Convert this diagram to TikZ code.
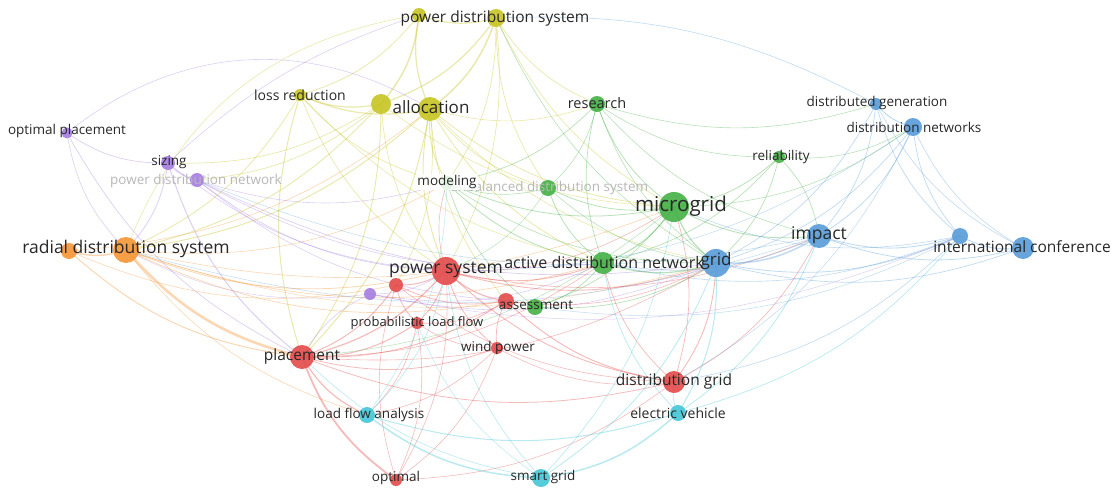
\documentclass[tikz,border=0pt]{standalone}
\usepackage{fontspec}
\setmainfont{Open Sans}
\usetikzlibrary{backgrounds}

\definecolor{cY}{RGB}{200,198,40}
\definecolor{cP}{RGB}{168,128,226}
\definecolor{cO}{RGB}{245,152,58}
\definecolor{cR}{RGB}{228,78,78}
\definecolor{cC}{RGB}{72,200,216}
\definecolor{cG}{RGB}{72,178,72}
\definecolor{cB}{RGB}{92,158,218}
\definecolor{txt}{RGB}{40,40,40}

\tikzset{
  lk/.style={draw=#1, draw opacity=0.38, line cap=round},
  dot/.style={circle, fill=#1, fill opacity=0.92, draw=none, inner sep=0pt},
  lbl/.style={text=txt, inner sep=1pt, font=\fontsize{#1}{#1}\selectfont},
  faint/.style={text=black!28, inner sep=1pt, font=\fontsize{#1}{#1}\selectfont},
}

\begin{document}
\begin{tikzpicture}[x=1pt, y=-1pt]
\useasboundingbox[fill=white] (0,0) rectangle (1115,487);

% keyword positions
\coordinate (pdsA)   at (419,15);
\coordinate (pds)    at (496,18);
\coordinate (loss)   at (300,95);
\coordinate (alA)    at (381,104);
\coordinate (al)     at (430,109);
\coordinate (optp)   at (67,133);
\coordinate (sizing) at (168,163);
\coordinate (pdn)    at (197,180);
\coordinate (purp)   at (370,294);
\coordinate (rdsA)   at (69,251);
\coordinate (rds)    at (126,250);
\coordinate (ps)     at (446,271);
\coordinate (ps2)    at (396,285);
\coordinate (assessR) at (506,301);
\coordinate (assessG) at (535,307);
\coordinate (plf)    at (417,323);
\coordinate (wind)   at (497,348);
\coordinate (place)  at (302,357);
\coordinate (optimal) at (396,480);
\coordinate (dgrid)  at (674,382);
\coordinate (lfa)    at (367,415);
\coordinate (sgrid)  at (541,478);
\coordinate (ev)     at (678,413);
\coordinate (research) at (597,104);
\coordinate (model)  at (447,183);
\coordinate (unbal)  at (548,188);
\coordinate (micro)  at (674,207);
\coordinate (adn)    at (603,263);
\coordinate (rel)    at (779,157);
\coordinate (dg)     at (876,104);
\coordinate (dn)     at (913,127);
\coordinate (impact) at (819,236);
\coordinate (grid)   at (716,263);
\coordinate (icA)    at (960,236);
\coordinate (ic)     at (1023,248);

% co-occurrence links
\foreach \a/\b/\c/\w in {
  pdsA/pds/cY/1.2, alA/pdsA/cY/1.5, pdsA/al/cY/1.2, alA/pds/cY/1.2, al/pds/cY/1.5,
  loss/pdsA/cY/0.8, pds/research/cY/0.7, pds/micro/cY/0.7, pds/unbal/cY/0.7,
  model/pds/cY/0.7, ps/pds/cY/0.7, pds/grid/cG/0.6,
  loss/al/cY/1.2, loss/alA/cY/1.2, loss/place/cY/1.0, rds/loss/cY/0.8,
  loss/ps/cY/0.7, loss/model/cY/0.7, loss/adn/cY/0.6,
  al/ps/cY/1.0, place/al/cY/1.0, rds/al/cY/1.0, al/model/cY/1.0, al/micro/cY/0.8,
  al/adn/cY/0.8, al/unbal/cY/0.7, ps2/al/cY/0.7, al/assessR/cY/0.7, al/grid/cY/0.6,
  al/research/cY/0.6, rds/alA/cY/0.9, place/alA/cY/0.9, alA/ps/cY/0.7,
  sizing/alA/cY/0.7, pdn/alA/cY/0.7, alA/micro/cY/0.6,
  optp/sizing/cP/0.7, optp/place/cP/0.7, optp/rds/cP/0.6,
  sizing/pdn/cP/1.0, sizing/place/cP/1.0, rds/sizing/cP/0.8, sizing/ps/cP/0.6,
  pdn/ps/cP/0.7, pdn/grid/cP/0.7, pdn/adn/cP/0.6, pdn/model/cP/0.6, pdn/assessR/cP/0.6,
  purp/ps/cP/0.6, purp/grid/cP/0.6, purp/adn/cP/0.6, purp/place/cP/0.6, rds/purp/cP/0.5,
  rdsA/rds/cO/1.5, rds/place/cO/2.6, rdsA/place/cO/1.0, rds/ps/cO/0.8,
  rds/assessR/cO/0.7, rds/adn/cO/0.7, rds/micro/cO/0.6, rds/model/cO/0.6,
  rdsA/ps2/cO/0.6, rds/lfa/cO/0.6, rds/grid/cO/0.5, rdsA/al/cO/0.6,
  place/ps/cR/1.2, place/ps2/cR/1.0, place/plf/cR/1.0, place/lfa/cR/1.2,
  place/optimal/cR/1.8, place/wind/cR/0.8, place/dgrid/cR/0.8, place/assessR/cR/0.9,
  place/grid/cR/0.6, place/adn/cR/0.6, ps2/ps/cR/1.0, ps/assessR/cR/1.2,
  ps/adn/cR/0.9, ps/grid/cR/0.9, ps/dgrid/cR/0.9, ps/wind/cR/0.8, plf/ps/cR/0.8,
  optimal/ps/cR/0.6, ps/micro/cR/0.6, model/ps/cR/0.6, ps/impact/cR/0.6,
  ps2/plf/cR/0.8, ps2/assessR/cR/0.8, ps2/optimal/cR/0.6, ps2/dgrid/cR/0.6,
  assessR/dgrid/cR/1.0, plf/assessR/cR/0.7, assessR/wind/cR/0.7, plf/wind/cR/0.6,
  lfa/plf/cR/0.6, optimal/plf/cR/0.6, lfa/wind/cR/0.6, optimal/wind/cR/0.6,
  dgrid/grid/cR/0.9, dgrid/impact/cR/0.7, dgrid/micro/cR/0.7, adn/dgrid/cR/0.7,
  wind/dgrid/cR/0.6, assessR/grid/cR/0.6, optimal/dgrid/cR/0.6,
  lfa/sgrid/cC/1.5, lfa/ev/cC/1.0, lfa/ps/cC/0.6, lfa/model/cC/0.5,
  sgrid/ev/cC/1.5, sgrid/grid/cC/0.8, ps/sgrid/cC/0.6, sgrid/micro/cC/0.6,
  place/sgrid/cC/0.6, ev/grid/cC/1.0, ev/impact/cC/0.8, ev/icA/cC/0.7,
  dgrid/ev/cC/0.8, adn/ev/cC/0.7, plf/sgrid/cC/0.5,
  research/micro/cG/0.8, research/adn/cG/0.7, model/research/cG/0.7,
  research/grid/cG/0.6, research/impact/cG/0.6, research/dg/cG/0.6,
  unbal/research/cG/0.6, research/rel/cG/0.6,
  model/micro/cG/0.8, model/adn/cG/0.8, model/assessG/cG/0.7, model/unbal/cG/0.6,
  model/grid/cG/0.6, unbal/micro/cG/0.8, unbal/adn/cG/0.8, unbal/grid/cG/0.6,
  adn/micro/cG/1.2, micro/grid/cG/1.2, micro/impact/cG/0.9, micro/rel/cG/0.8,
  micro/dn/cG/0.6, grid/rel/cG/0.7, impact/rel/cG/0.7, rel/dn/cG/0.6,
  adn/rel/cG/0.7, adn/grid/cG/1.2, assessG/adn/cG/0.8, assessG/grid/cG/0.7,
  assessG/micro/cG/0.7, ps/unbal/cG/0.5, place/micro/cG/0.5,
  dg/dn/cB/1.0, grid/dg/cB/0.7, impact/dg/cB/0.7, dg/icA/cB/0.7, dg/ic/cB/0.6,
  impact/dn/cB/0.8, grid/dn/cB/0.7, dn/icA/cB/0.7, dn/ic/cB/0.6,
  grid/impact/cB/1.5, impact/icA/cB/0.9, impact/ic/cB/0.8, grid/icA/cB/0.8,
  grid/ic/cB/0.7, icA/ic/cB/1.0, adn/impact/cB/0.8, rds/impact/cB/0.5,
  pdn/impact/cB/0.5, adn/icA/cB/0.6, assessG/icA/cB/0.5, dgrid/icA/cB/0.6,
  dgrid/dn/cB/0.5, micro/icA/cB/0.6, ps/dn/cB/0.5, purp/icA/cP/0.5}
  \draw[lk=\c, line width=\w pt] (\a) to[bend right=17] (\b);

% long arcs over the top
\draw[lk=cP, line width=0.6pt] (optp) to[bend left=35] (al);
\draw[lk=cP, line width=0.6pt] (sizing) to[bend left=12] (pdsA);
\draw[lk=cB, line width=0.6pt] (pds) to[bend left=15] (dg);
\draw[lk=cY, line width=0.6pt] (rds) to[bend left=30] (pdsA);

% keyword circles
\node[dot=cY, minimum size=14pt] (pdsA-c) at (pdsA) {};
\node[dot=cY, minimum size=18pt] (pds-c) at (pds) {};
\node[dot=cY, minimum size=12pt] (loss-c) at (loss) {};
\node[dot=cY, minimum size=20pt] (alA-c) at (alA) {};
\node[dot=cY, minimum size=24pt] (al-c) at (al) {};
\node[dot=cP, minimum size=11pt] (optp-c) at (optp) {};
\node[dot=cP, minimum size=14pt] (sizing-c) at (sizing) {};
\node[dot=cP, minimum size=14pt] (pdn-c) at (pdn) {};
\node[dot=cP, minimum size=12pt] (purp-c) at (purp) {};
\node[dot=cO, minimum size=16pt] (rdsA-c) at (rdsA) {};
\node[dot=cO, minimum size=26pt] (rds-c) at (rds) {};
\node[dot=cR, minimum size=28pt] (ps-c) at (ps) {};
\node[dot=cR, minimum size=14pt] (ps2-c) at (ps2) {};
\node[dot=cR, minimum size=16pt] (assessR-c) at (assessR) {};
\node[dot=cG, minimum size=16pt] (assessG-c) at (assessG) {};
\node[dot=cR, minimum size=12pt] (plf-c) at (plf) {};
\node[dot=cR, minimum size=12pt] (wind-c) at (wind) {};
\node[dot=cR, minimum size=24pt] (place-c) at (place) {};
\node[dot=cR, minimum size=12pt] (optimal-c) at (optimal) {};
\node[dot=cR, minimum size=22pt] (dgrid-c) at (dgrid) {};
\node[dot=cC, minimum size=16pt] (lfa-c) at (lfa) {};
\node[dot=cC, minimum size=18pt] (sgrid-c) at (sgrid) {};
\node[dot=cC, minimum size=16pt] (ev-c) at (ev) {};
\node[dot=cG, minimum size=16pt] (research-c) at (research) {};
\node[dot=cG, minimum size=14pt] (model-c) at (model) {};
\node[dot=cG, minimum size=16pt] (unbal-c) at (unbal) {};
\node[dot=cG, minimum size=30pt] (micro-c) at (micro) {};
\node[dot=cG, minimum size=22pt] (adn-c) at (adn) {};
\node[dot=cG, minimum size=12pt] (rel-c) at (rel) {};
\node[dot=cB, minimum size=12pt] (dg-c) at (dg) {};
\node[dot=cB, minimum size=18pt] (dn-c) at (dn) {};
\node[dot=cB, minimum size=24pt] (impact-c) at (impact) {};
\node[dot=cB, minimum size=28pt] (grid-c) at (grid) {};
\node[dot=cB, minimum size=16pt] (icA-c) at (icA) {};
\node[dot=cB, minimum size=22pt] (ic-c) at (ic) {};

% keyword labels
\node[faint=13.5] (pdn-l) at (196,181) {power distribution network};
\node[faint=13.5] (unbal-l) at (549,188) {unbalanced distribution system};
\node[lbl=15.5] (pds-l) at (495,18) {power distribution system};
\node[lbl=14] (loss-l) at (300,95) {loss reduction};
\node[lbl=17] (al-l) at (431,107) {allocation};
\node[lbl=13.5] (optp-l) at (67,131) {optimal placement};
\node[lbl=13.5] (sizing-l) at (169,162) {sizing};
\node[lbl=17.5] (rds-l) at (126,249) {radial distribution system};
\node[lbl=17.5] (ps-l) at (446,270) {power system};
\node[lbl=13.5] (assess-l) at (536,305) {assessment};
\node[lbl=13] (plf-l) at (417,323) {probabilistic load flow};
\node[lbl=13.5] (wind-l) at (498,348) {wind power};
\node[lbl=15.5] (place-l) at (302,356) {placement};
\node[lbl=13.5] (optimal-l) at (396,478) {optimal};
\node[lbl=15.5] (dgrid-l) at (674,381) {distribution grid};
\node[lbl=13.5] (lfa-l) at (369,415) {load flow analysis};
\node[lbl=13.5] (sgrid-l) at (543,477) {smart grid};
\node[lbl=14] (ev-l) at (678,413) {electric vehicle};
\node[lbl=14.5] (research-l) at (597,103) {research};
\node[fill=white, fill opacity=0.85, text opacity=1, lbl=13.5] (model-l) at (447,182) {modeling};
\node[lbl=20.5] (micro-l) at (681,206) {microgrid};
\node[lbl=16] (adn-l) at (604,262) {active distribution network};
\node[lbl=13.5] (rel-l) at (781,157) {reliability};
\node[lbl=13.5] (dg-l) at (877,103) {distributed generation};
\node[lbl=13.5] (dn-l) at (914,127) {distribution networks};
\node[lbl=17.5] (impact-l) at (819,235) {impact};
\node[lbl=17] (grid-l) at (716,261) {grid};
\node[lbl=15.5] (ic-l) at (1022,247) {international conference};
\end{tikzpicture}
\end{document}
